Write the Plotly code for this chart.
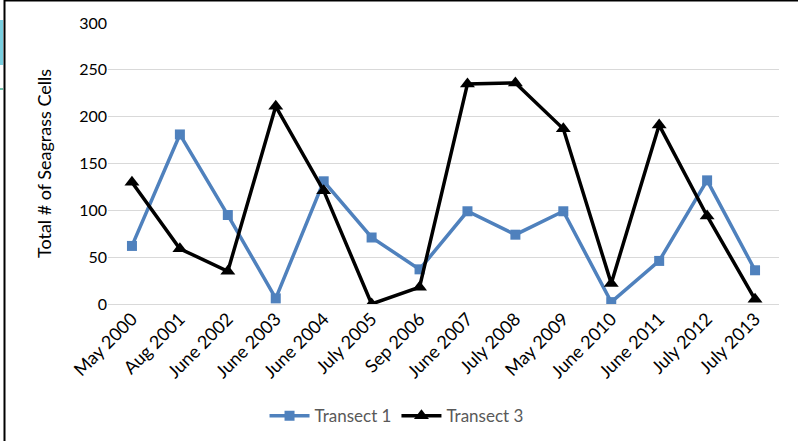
import plotly.graph_objects as go

# Survey dates (category axis)
dates = ["May 2000", "Aug 2001", "June 2002", "June 2003", "June 2004",
         "July 2005", "Sep 2006", "June 2007", "July 2008", "May 2009",
         "June 2010", "June 2011", "July 2012", "July 2013"]

# Seagrass cell counts per transect
transect_1 = [62, 181, 95, 6, 131, 71, 37, 99, 74, 99, 2, 46, 132, 36]
transect_3 = [130, 59, 35, 211, 121, 0, 18, 235, 236, 187, 22, 191, 94, 5]

y_ticks = [0, 50, 100, 150, 200, 250, 300]

W, H = 798, 441
ML, MR, MT, MB = 108, 19, 23, 137
PW, PH = W - ML - MR, H - MT - MB

fig = go.Figure()
fig.add_trace(go.Scatter(
    x=dates, y=transect_1, name="Transect 1", mode="lines+markers",
    line=dict(color="#4f81bd", width=3.5),
    marker=dict(symbol="square", size=10, color="#4f81bd"),
))
fig.add_trace(go.Scatter(
    x=dates, y=transect_3, name="Transect 3", mode="lines+markers",
    line=dict(color="#000000", width=3.5),
    marker=dict(symbol="triangle-up", size=13, color="#000000"),
))

def px_x(p):
    return (p - ML) / PW

def px_y(p):
    return 1 - (p - MT) / PH

shapes = [
    # frame lines along the top and left edge
    dict(type="line", xref="paper", yref="paper",
         x0=px_x(4), x1=px_x(800), y0=px_y(0.5), y1=px_y(0.5),
         line=dict(color="black", width=2)),
    dict(type="line", xref="paper", yref="paper",
         x0=px_x(4.5), x1=px_x(4.5), y0=px_y(0), y1=px_y(441),
         line=dict(color="black", width=2)),
    # small coloured strip at the far left
    dict(type="rect", xref="paper", yref="paper",
         x0=px_x(0), x1=px_x(3), y0=px_y(65), y1=px_y(20),
         fillcolor="#79cfe0", line=dict(width=0)),
    dict(type="line", xref="paper", yref="paper",
         x0=px_x(0), x1=px_x(3), y0=px_y(89), y1=px_y(89),
         line=dict(color="#3fa98a", width=1.5)),
]

fig.update_layout(
    width=W, height=H,
    margin=dict(l=ML, r=MR, t=MT, b=MB, autoexpand=False),
    paper_bgcolor="white", plot_bgcolor="white",
    font=dict(family="Lato, Liberation Sans, sans-serif", color="#595959", size=16),
    showlegend=True,
    legend=dict(orientation="h", x=0.43, xanchor="center", y=-0.335, yanchor="top",
                font=dict(size=17, color="#595959"), itemwidth=40),
    xaxis=dict(
        type="category", range=[-0.5, 13.5], automargin=False,
        tickangle=-45, tickfont=dict(size=18, color="#000000"),
        showgrid=False, showline=False, ticks="",
    ),
    yaxis=dict(
        range=[0, 300], tickvals=y_ticks, automargin=False,
        showgrid=True, gridcolor="#d9d9d9", gridwidth=1,
        zeroline=True, zerolinecolor="#d9d9d9", zerolinewidth=1,
        showline=False, ticks="", ticklen=0,
        tickfont=dict(size=16, color="#000000"),
        title=dict(text="Total # of Seagrass Cells",
                   font=dict(size=18, color="#000000"), standoff=22),
    ),
    shapes=shapes,
)

fig.write_html("out.html")
